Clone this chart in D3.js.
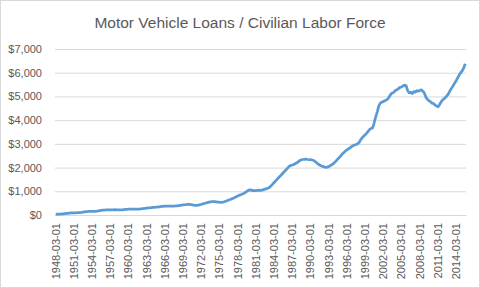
<!DOCTYPE html>
<html>
<head>
<meta charset="utf-8">
<script src="https://cdn.jsdelivr.net/npm/d3@7"></script>
<style>
  body { margin: 0; background: #fff; }
  text { font-family: "Liberation Sans", Arial, sans-serif; fill: #595959; }
</style>
</head>
<body>
<div id="chart"></div>
<script>
// quarterly values, 1948 Q1 .. 2015 Q3 (dollars per labor force member)
const firstYear = 1948;
const quarterMonths = ["03", "06", "09", "12"];
const loanPerWorker = [
  28, 32, 36, 40,        // 1948
  45, 52, 60, 66,        // 1949
  72, 80, 88, 90,        // 1950
  92, 94, 96, 100,       // 1951
  104, 112, 122, 130,    // 1952
  138, 146, 152, 154,    // 1953
  152, 152, 154, 160,    // 1954
  172, 186, 198, 206,    // 1955
  210, 212, 214, 214,    // 1956
  216, 218, 220, 222,    // 1957
  220, 216, 214, 216,    // 1958
  220, 228, 236, 240,    // 1959
  244, 248, 250, 250,    // 1960
  246, 244, 246, 250,    // 1961
  256, 264, 272, 280,    // 1962
  288, 296, 304, 312,    // 1963
  318, 324, 330, 336,    // 1964
  344, 352, 360, 366,    // 1965
  372, 376, 378, 378,    // 1966
  376, 374, 376, 380,    // 1967
  388, 398, 408, 416,    // 1968
  424, 432, 440, 446,    // 1969
  446, 440, 430, 416,    // 1970
  406, 410, 420, 434,    // 1971
  450, 468, 486, 504,    // 1972
  522, 540, 552, 560,    // 1973
  562, 560, 554, 546,    // 1974
  538, 534, 540, 556,    // 1975
  578, 604, 630, 654,    // 1976
  680, 708, 738, 770,    // 1977
  800, 830, 858, 884,    // 1978
  910, 950, 995, 1040,   // 1979
  1060, 1050, 1030, 1025, // 1980
  1030, 1040, 1045, 1040, // 1981
  1050, 1070, 1090, 1110, // 1982
  1130, 1170, 1230, 1300, // 1983
  1370, 1440, 1510, 1580, // 1984
  1640, 1710, 1780, 1850, // 1985
  1920, 1990, 2060, 2090, // 1986
  2110, 2130, 2170, 2200, // 1987
  2250, 2300, 2330, 2340, // 1988
  2350, 2360, 2340, 2330, // 1989
  2340, 2320, 2300, 2260, // 1990
  2200, 2150, 2110, 2080, // 1991
  2050, 2030, 2010, 2020, // 1992
  2040, 2080, 2120, 2160, // 1993
  2220, 2290, 2360, 2430, // 1994
  2500, 2580, 2640, 2700, // 1995
  2750, 2790, 2830, 2880, // 1996
  2920, 2950, 2970, 3000, // 1997
  3060, 3170, 3250, 3320, // 1998
  3380, 3450, 3530, 3610, // 1999
  3650, 3680, 3900, 4150, // 2000
  4350, 4600, 4720, 4760, // 2001
  4780, 4820, 4850, 4900, // 2002
  5000, 5100, 5150, 5180, // 2003
  5250, 5280, 5330, 5380, // 2004
  5400, 5440, 5480, 5450, // 2005
  5250, 5150, 5180, 5120, // 2006
  5200, 5180, 5240, 5220, // 2007
  5250, 5280, 5220, 5150, // 2008
  4980, 4880, 4820, 4780, // 2009
  4720, 4700, 4640, 4600, // 2010
  4560, 4650, 4760, 4850, // 2011
  4900, 4960, 5030, 5120, // 2012
  5250, 5350, 5450, 5560, // 2013
  5660, 5780, 5900, 6000, // 2014
  6080, 6200, 6380        // 2015
];
const yTicks = [0, 1000, 2000, 3000, 4000, 5000, 6000, 7000];
const labelEvery = 12; // one label every 3 years

const dates = loanPerWorker.map((v, i) =>
  (firstYear + Math.floor(i / 4)) + "-" + quarterMonths[i % 4] + "-01");
const data = dates.map((d, i) => ({ date: d, value: loanPerWorker[i] }));

const width = 480, height = 288;
const margin = { top: 49, right: 14, bottom: 73, left: 55 };
const innerW = width - margin.left - margin.right;
const innerH = height - margin.top - margin.bottom;

const svgRoot = d3.select("#chart").append("svg")
    .attr("width", width)
    .attr("height", height);

// chart border
svgRoot.append("rect")
    .attr("x", 0.5).attr("y", 0.5)
    .attr("width", width - 1).attr("height", height - 1)
    .attr("fill", "#fff")
    .attr("stroke", "#d9d9d9");

svgRoot.append("text")
    .attr("x", 240)
    .attr("y", 28)
    .attr("text-anchor", "middle")
    .style("font-size", "15.5px")
    .text("Motor Vehicle Loans / Civilian Labor Force");

const svg = svgRoot.append("g")
    .attr("transform", "translate(" + margin.left + "," + margin.top + ")");

const x = d3.scaleBand().domain(dates).range([0, innerW]);
const y = d3.scaleLinear().domain([0, 7000]).range([innerH, 0]);

const yAxis = d3.axisLeft(y)
    .tickValues(yTicks)
    .tickSize(-innerW)
    .tickPadding(13)
    .tickFormat(d3.format("$,"));

const gy = svg.append("g").attr("class", "y axis").call(yAxis);
gy.select(".domain").remove();
gy.selectAll("line").attr("stroke", "#d9d9d9");
gy.selectAll("text").style("font-size", "11px");

const xAxis = d3.axisBottom(x)
    .tickValues(dates.filter((d, i) => i % labelEvery === 0))
    .tickSize(0)
    .tickPadding(0);

const gx = svg.append("g")
    .attr("class", "x axis")
    .attr("transform", "translate(0," + innerH + ")")
    .call(xAxis);
gx.select(".domain").attr("stroke", "#d9d9d9");
gx.selectAll("text")
    .style("font-size", "11px")
    .attr("text-anchor", "end")
    .attr("transform", "rotate(-90)")
    .attr("x", -8)
    .attr("y", 0)
    .attr("dy", "0.35em");

const line = d3.line()
    .x(d => x(d.date) + x.bandwidth() / 2)
    .y(d => y(d.value));

svg.append("path")
    .datum(data)
    .attr("fill", "none")
    .attr("stroke", "#5b9bd5")
    .attr("stroke-width", 2.75)
    .attr("stroke-linejoin", "round")
    .attr("d", line);
</script>
</body>
</html>
